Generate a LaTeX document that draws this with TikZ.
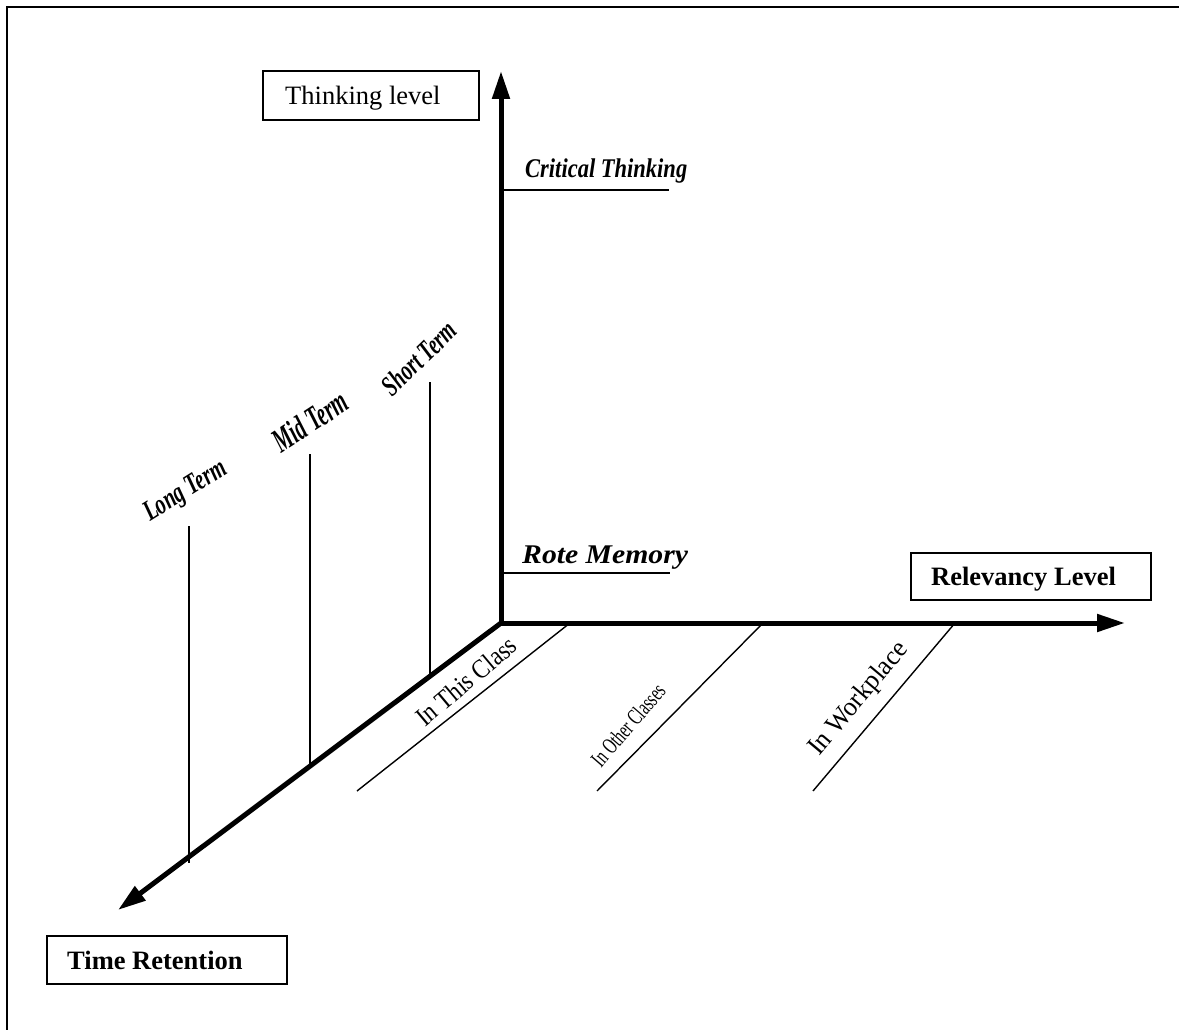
\documentclass[tikz,border=0pt]{standalone}
\usepackage{fontspec}
\setmainfont{Liberation Serif}
\usetikzlibrary{arrows.meta}
\begin{document}
\begin{tikzpicture}[x=1pt,y=-1pt,
  axisline/.style={line width=5pt},
  thintick/.style={line width=1.4pt},
  frameline/.style={line width=2.5pt},
  box/.style={draw, line width=2pt, inner sep=0pt, anchor=north west},
  bi/.style={inner sep=0pt, font=\fontsize{27}{30}\selectfont\bfseries\itshape},
  wa/.style={inner sep=0pt, font=\fontsize{29}{30}\selectfont\bfseries\itshape},
  rl/.style={inner sep=0pt, font=\fontsize{27}{30}\selectfont},
  boxtext/.style={inner sep=0pt, anchor=base west, font=\fontsize{26.5}{30}\selectfont},
  tip/.style={-{Triangle[length=28pt,width=17pt]}}
]
\useasboundingbox (0,0) rectangle (1179,1030);
% frame
\coordinate (fTR) at (1179,7);
\coordinate (fTL) at (7,7);
\coordinate (fBL) at (7,1030);
\draw[frameline] (fTR) -- (fTL) -- (fBL);

% axes
\coordinate (O) at (501,623);
\coordinate (vtip) at (501,71);
\coordinate (htip) at (1125,623);
\coordinate (ttip) at (118,910);
\draw[axisline, {Triangle[length=28pt,width=17pt]}-{Triangle[length=28pt,width=17pt]}] (vtip) -- (O) -- (htip);
\draw[axisline, tip] (O) -- (ttip);

% boxes
\node[box, minimum width=216pt, minimum height=49pt] (thinkbox) at (262,70) {};
\node[boxtext] (thinktxt) at (285,105) {Thinking level};
\node[box, minimum width=240pt, minimum height=47pt] (relbox) at (910,552) {};
\node[boxtext, font=\fontsize{26.5}{30}\selectfont\bfseries] (reltxt) at (931,585) {Relevancy Level};
\node[box, minimum width=240pt, minimum height=48pt] (timebox) at (46,935) {};
\node[boxtext, font=\fontsize{26.5}{30}\selectfont\bfseries] (timetxt) at (67,969) {Time Retention};

% thinking levels
\node[bi, anchor=base west] (crit) at (525,178) {\scalebox{0.834}[1]{Critical Thinking}};
\coordinate (critL) at (501,190);
\coordinate (critR) at (669,190);
\draw[thintick] (critL) -- (critR);
\node[bi, anchor=base west] (rote) at (522,563) {\scalebox{1.1}[1]{Rote Memory}};
\coordinate (roteL) at (501,573);
\coordinate (roteR) at (670,573);
\draw[thintick] (roteL) -- (roteR);

% time ticks
\coordinate (lt1) at (189,526); \coordinate (lt2) at (189,863);
\coordinate (mt1) at (310,454); \coordinate (mt2) at (310,767);
\coordinate (st1) at (430,382); \coordinate (st2) at (430,675);
\draw[thintick] (lt1) -- (lt2);
\draw[thintick] (mt1) -- (mt2);
\draw[thintick] (st1) -- (st2);
\node[wa, rotate=32] (long) at (186,492) {\scalebox{0.7}[1]{Long Term}};
\node[wa, rotate=33, font=\fontsize{34}{36}\selectfont\bfseries\itshape] (mid) at (310,421) {\scalebox{0.6}[1]{Mid Term}};
\node[wa, rotate=44] (short) at (419,358) {\scalebox{0.68}[1]{Short Term}};

% relevancy ticks
\coordinate (r1a) at (570,623); \coordinate (r1b) at (357,791);
\coordinate (r2a) at (763,623); \coordinate (r2b) at (597,791);
\coordinate (r3a) at (955,623); \coordinate (r3b) at (813,791);
\draw[thintick] (r1a) -- (r1b);
\draw[thintick] (r2a) -- (r2b);
\draw[thintick] (r3a) -- (r3b);
\node[rl, rotate=40] (cls1) at (466,681) {\scalebox{0.86}[1]{In This Class}};
\node[rl, rotate=49, font=\fontsize{23}{26}\selectfont] (cls2) at (628,725) {\scalebox{0.66}[1]{In Other Classes}};
\node[rl, rotate=50] (work) at (859,699) {\scalebox{0.96}[1]{In Workplace}};
\end{tikzpicture}
\end{document}
